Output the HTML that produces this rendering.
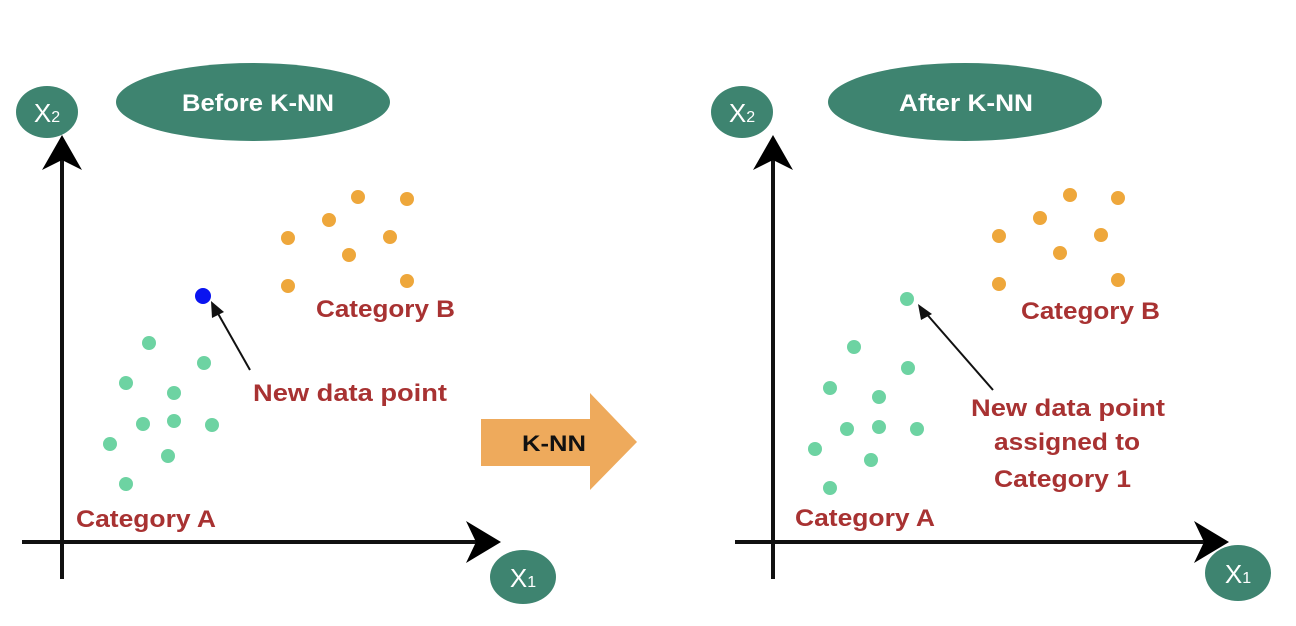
<!DOCTYPE html>
<html><head><style>html,body{margin:0;padding:0;background:#fff}svg{display:block}</style></head><body>
<svg width="1296" height="626" viewBox="0 0 1296 626" xmlns="http://www.w3.org/2000/svg" font-family="Liberation Sans, sans-serif" font-weight="bold">
<g id="left">
<ellipse cx="253" cy="102" rx="137" ry="39" fill="#3e8470"/>
<text x="182" y="111" font-size="24" fill="#fff" textLength="152" lengthAdjust="spacingAndGlyphs">Before K-NN</text>
<ellipse cx="47" cy="112" rx="31" ry="26" fill="#3e8470"/>
<text x="47" y="122" font-size="26" font-weight="normal" fill="#fff" text-anchor="middle">X<tspan font-size="16">2</tspan></text>
<line x1="62" y1="160" x2="62" y2="579" stroke="#111" stroke-width="4"/>
<polygon points="62,135 82,170 62,160 42,170" fill="#000"/>
<line x1="22" y1="542" x2="480" y2="542" stroke="#111" stroke-width="4"/>
<polygon points="501,542 466,521 476,542 466,563" fill="#000"/>
<ellipse cx="523" cy="577" rx="33" ry="27" fill="#3e8470"/>
<text x="523" y="587" font-size="26" font-weight="normal" fill="#fff" text-anchor="middle">X<tspan font-size="16">1</tspan></text>
<g fill="#eea73b">
<circle cx="288" cy="238" r="7"/><circle cx="329" cy="220" r="7"/><circle cx="358" cy="197" r="7"/><circle cx="407" cy="199" r="7"/><circle cx="390" cy="237" r="7"/><circle cx="349" cy="255" r="7"/><circle cx="288" cy="286" r="7"/><circle cx="407" cy="281" r="7"/>
</g>
<g fill="#6dd3a2">
<circle cx="149" cy="343" r="7"/><circle cx="204" cy="363" r="7"/><circle cx="126" cy="383" r="7"/><circle cx="174" cy="393" r="7"/><circle cx="143" cy="424" r="7"/><circle cx="174" cy="421" r="7"/><circle cx="212" cy="425" r="7"/><circle cx="110" cy="444" r="7"/><circle cx="168" cy="456" r="7"/><circle cx="126" cy="484" r="7"/>
</g>
<circle cx="203" cy="296" r="8" fill="#0a14f0"/>
<line x1="250" y1="370" x2="216" y2="310" stroke="#111" stroke-width="2"/>
<polygon points="211,301 224,312 212,318" fill="#111"/>
<g fill="#a83232" font-size="24">
<text x="316" y="317" textLength="139" lengthAdjust="spacingAndGlyphs">Category B</text>
<text x="253" y="401" textLength="194" lengthAdjust="spacingAndGlyphs">New data point</text>
<text x="76" y="527" textLength="140" lengthAdjust="spacingAndGlyphs">Category A</text>
</g>
</g>
<polygon points="481,419 590,419 590,393 637,442 590,490 590,466 481,466" fill="#eeaa5c"/>
<text x="522" y="451" font-size="22" fill="#111" textLength="64" lengthAdjust="spacingAndGlyphs">K-NN</text>
<g id="right">
<ellipse cx="965" cy="102" rx="137" ry="39" fill="#3e8470"/>
<text x="899" y="111" font-size="24" fill="#fff" textLength="134" lengthAdjust="spacingAndGlyphs">After K-NN</text>
<ellipse cx="742" cy="112" rx="31" ry="26" fill="#3e8470"/>
<text x="742" y="122" font-size="26" font-weight="normal" fill="#fff" text-anchor="middle">X<tspan font-size="16">2</tspan></text>
<line x1="773" y1="160" x2="773" y2="579" stroke="#111" stroke-width="4"/>
<polygon points="773,135 793,170 773,160 753,170" fill="#000"/>
<line x1="735" y1="542" x2="1210" y2="542" stroke="#111" stroke-width="4"/>
<polygon points="1229,542 1194,521 1204,542 1194,563" fill="#000"/>
<ellipse cx="1238" cy="573" rx="33" ry="28" fill="#3e8470"/>
<text x="1238" y="583" font-size="26" font-weight="normal" fill="#fff" text-anchor="middle">X<tspan font-size="16">1</tspan></text>
<g fill="#eea73b">
<circle cx="999" cy="236" r="7"/><circle cx="1040" cy="218" r="7"/><circle cx="1070" cy="195" r="7"/><circle cx="1118" cy="198" r="7"/><circle cx="1101" cy="235" r="7"/><circle cx="1060" cy="253" r="7"/><circle cx="999" cy="284" r="7"/><circle cx="1118" cy="280" r="7"/>
</g>
<g fill="#6dd3a2">
<circle cx="907" cy="299" r="7"/>
<circle cx="854" cy="347" r="7"/><circle cx="908" cy="368" r="7"/><circle cx="830" cy="388" r="7"/><circle cx="879" cy="397" r="7"/><circle cx="847" cy="429" r="7"/><circle cx="879" cy="427" r="7"/><circle cx="917" cy="429" r="7"/><circle cx="815" cy="449" r="7"/><circle cx="871" cy="460" r="7"/><circle cx="830" cy="488" r="7"/>
</g>
<line x1="993" y1="390" x2="924" y2="311" stroke="#111" stroke-width="2"/>
<polygon points="918,304 932,314 921,320" fill="#111"/>
<g fill="#a83232" font-size="24">
<text x="1021" y="319" textLength="139" lengthAdjust="spacingAndGlyphs">Category B</text>
<text x="971" y="416" textLength="194" lengthAdjust="spacingAndGlyphs">New data point</text>
<text x="994" y="450" textLength="146" lengthAdjust="spacingAndGlyphs">assigned to</text>
<text x="994" y="487" textLength="137" lengthAdjust="spacingAndGlyphs">Category 1</text>
<text x="795" y="526" textLength="140" lengthAdjust="spacingAndGlyphs">Category A</text>
</g>
</g>
</svg>
</body></html>
